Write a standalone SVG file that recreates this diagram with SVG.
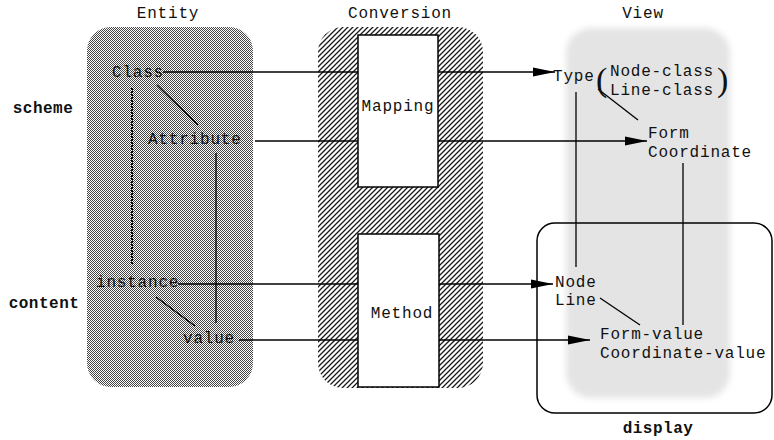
<svg xmlns="http://www.w3.org/2000/svg" width="774" height="440" viewBox="0 0 774 440">
<defs>
<pattern id="dither" patternUnits="userSpaceOnUse" width="2" height="2">
<rect width="2" height="2" fill="#ffffff"/>
<rect x="0" y="0" width="1" height="1" fill="#454545"/>
<rect x="1" y="1" width="1" height="1" fill="#454545"/>
</pattern>
<pattern id="hatch" patternUnits="userSpaceOnUse" width="5" height="5">
<rect width="5" height="5" fill="#ffffff"/>
<path d="M-1,6 L6,-1 M-1,1 L1,-1 M4,6 L6,4" stroke="#1a1a1a" stroke-width="1.3"/>
</pattern>
<filter id="soft" x="-10%" y="-10%" width="120%" height="120%">
<feGaussianBlur stdDeviation="3"/>
</filter>
<marker id="arr" markerUnits="userSpaceOnUse" viewBox="0 0 22 10" refX="22" refY="5" markerWidth="22" markerHeight="10" orient="auto">
<path d="M0,0.5 L22,5 L0,9.5 z" fill="#000"/>
</marker>
</defs>
<style>
text{font-family:"Liberation Mono","DejaVu Sans Mono",monospace;font-size:16px;letter-spacing:0.8px;fill:#111}
.b{font-weight:bold;letter-spacing:0.5px}
.m{text-anchor:middle}
.ln{stroke:#000;stroke-width:1.3;fill:none}
.dot{stroke:#000;stroke-width:2;fill:none;stroke-dasharray:2,1}
.par{font-family:"Liberation Serif",serif;font-size:34px;letter-spacing:0}
</style>
<rect width="774" height="440" fill="#fff"/>

<g id="view">
<rect x="566" y="28" width="164" height="370" rx="25" fill="#e4e4e4" filter="url(#soft)"/>
<text class="m" x="643" y="18">View</text>
</g>

<g id="entity">
<rect x="87" y="27" width="166" height="360" rx="24" fill="url(#dither)"/>
<text class="m" x="168" y="18">Entity</text>
</g>

<g id="conversion">
<rect x="318" y="27" width="165" height="361" rx="25" fill="url(#hatch)"/>
<text class="m" x="400" y="18">Conversion</text>
</g>

<g id="labels">
<text class="b m" x="43" y="113">scheme</text>
<text class="b m" x="44" y="308">content</text>
</g>

<g id="connectors">
<path class="ln" d="M163,72 H555" marker-end="url(#arr)"/>
<path class="ln" d="M255,141 H647" marker-end="url(#arr)"/>
<path class="ln" d="M178,284 H553" marker-end="url(#arr)"/>
<path class="ln" d="M239,340 H590" marker-end="url(#arr)"/>
<path class="ln" d="M157,85 L198,125"/>
<path class="dot" d="M132,88 V265"/>
<path class="ln" d="M216,153 V323"/>
<path class="ln" d="M156,297 L195,326"/>
<path class="ln" d="M598,89 L638,120"/>
<path class="ln" d="M576,92 V267"/>
<path class="ln" d="M683,163 V325"/>
<path class="ln" d="M600,298 L640,325"/>
</g>

<g id="mapping">
<rect x="358" y="35" width="80" height="152" fill="#fff" stroke="#000" stroke-width="1.5"/>
<text class="m" x="398" y="111">Mapping</text>
</g>
<g id="method">
<rect x="358" y="234" width="81" height="153" fill="#fff" stroke="#000" stroke-width="1.5"/>
<text class="m" x="402" y="318">Method</text>
</g>

<g id="class"><text x="112" y="77">Class</text></g>
<g id="attribute"><text x="148" y="144">Attribute</text></g>
<g id="instance"><text x="96" y="287">instance</text></g>
<g id="value"><text x="183" y="343">value</text></g>

<g id="type">
<text x="553" y="81">Type</text>
<text class="par" x="596" y="91">(</text>
<text x="610" y="76">Node-class</text>
<text x="610" y="95">Line-class</text>
<text class="par" x="717" y="91">)</text>
</g>
<g id="form"><text x="648" y="138">Form</text><text x="648" y="157">Coordinate</text></g>

<g id="display">
<rect x="537" y="223" width="235" height="190" rx="18" fill="none" stroke="#000" stroke-width="1.5"/>
<text class="b m" x="658" y="433">display</text>
</g>
<g id="nodeline"><text x="555" y="287">Node</text><text x="555" y="305">Line</text></g>
<g id="formvalue"><text x="600" y="339">Form-value</text><text x="600" y="358">Coordinate-value</text></g>
</svg>
